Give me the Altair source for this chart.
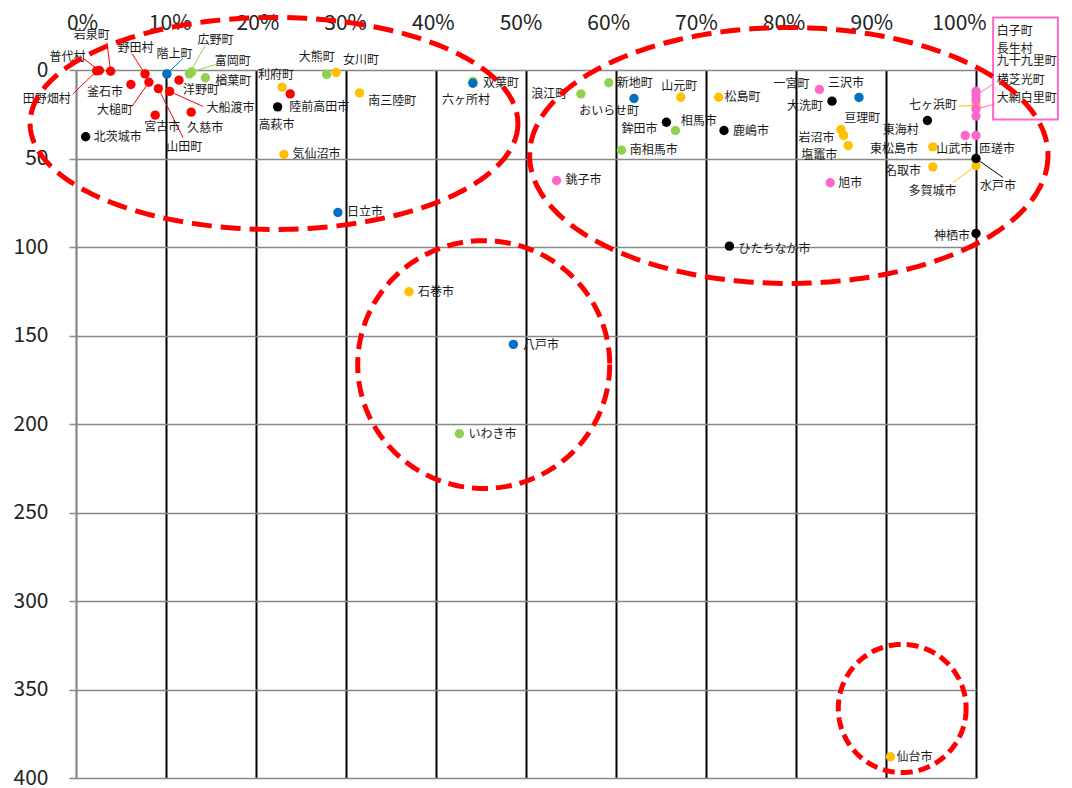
import numpy as np
import pandas as pd
import altair as alt

# ---------------- data ----------------
names = ["田野畑村", "普代村", "岩泉町", "野田村", "階上町", "広野町", "富岡町", "楢葉町", "洋野町", "釜石市",
         "大槌町", "山田町", "大船渡市", "宮古市", "久慈市", "北茨城市", "大熊町", "女川町", "利府町", "陸前高田市",
         "高萩市", "南三陸町", "気仙沼市", "日立市", "双葉町", "六ヶ所村", "浪江町", "新地町", "おいらせ町", "山元町",
         "松島町", "鉾田市", "相馬市", "鹿嶋市", "南相馬市", "銚子市", "一宮町", "大洗町", "三沢市", "亘理町",
         "岩沼市", "塩竈市", "旭市", "東海村", "東松島市", "名取市", "山武市", "匝瑳市", "水戸市", "多賀城市",
         "神栖市", "七ヶ浜町", "白子町", "長生村", "九十九里町", "横芝光町", "大網白里町", "石巻市", "八戸市", "いわき市",
         "ひたちなか市", "仙台市"]
groups = ["red", "red", "red", "red", "blue", "green", "green", "green", "red", "red",
          "red", "red", "red", "red", "red", "black", "green", "yellow", "yellow", "red",
          "black", "yellow", "yellow", "blue", "green", "blue", "green", "green", "blue", "yellow",
          "yellow", "black", "green", "black", "green", "pink", "pink", "black", "blue", "yellow",
          "yellow", "yellow", "pink", "black", "yellow", "yellow", "pink", "pink", "black", "yellow",
          "black", "yellow", "pink", "pink", "pink", "pink", "pink", "yellow", "blue", "green",
          "black", "yellow"]
x_pct = [2.3, 2.6, 3.85, 7.67, 10.1, 12.6, 12.85, 14.37, 11.44, 6.1,
         8.1, 9.15, 10.4, 8.8, 12.8, 1.07, 27.85, 28.9, 22.9, 23.8,
         22.4, 31.5, 23.1, 29.1, 44.1, 44.1, 56.1, 59.2, 62.0, 67.2,
         71.4, 65.6, 66.6, 72.0, 60.6, 53.4, 82.6, 84.0, 87.0, 85.0,
         85.3, 85.8, 83.8, 94.6, 95.2, 95.2, 98.8, 100, 100, 100,
         100, 100, 100, 100, 100, 100, 100, 37.0, 48.6, 42.6,
         72.6, 90.5]
y_val = [0.5, 0.3, 0.7, 2.2, 2.2, 2.2, 1.1, 4.4, 5.75, 8.2,
         6.9, 10.5, 12.1, 25.5, 23.8, 37.7, 2.5, 1.4, 9.7, 13.5,
         20.8, 12.9, 47.7, 80.5, 6.5, 7.5, 13.5, 7.2, 16.1, 15.4,
         15.4, 29.5, 34.2, 34.2, 45.3, 62.4, 11.0, 17.6, 15.5, 33.6,
         37.0, 42.7, 63.7, 28.5, 43.4, 54.7, 37.0, 37.0, 50.0, 54.0,
         92.4, 20.0, 12.0, 14.5, 17.0, 22.0, 26.0, 125.3, 155.0, 205.5,
         99.5, 388.0]
x_ticks = [0, 10, 20, 30, 40, 50, 60, 70, 80, 90, 100]
y_ticks = [0, 50, 100, 150, 200, 250, 300, 350, 400]

# ---------------- label styling (pixel offsets from the dot) ----------------
lab_dx = [-26, -32, -19, -9.5, 7.5, 26, 41, 10, 4, -8,
          -34, 26, 37, 7, 14, 8, -10, 25, -6, -1,
          -1, 8.7, 8.7, 9, 10, -7, -13.7, 8, -25, -1.5,
          6, -9, 5.3, 9, 8.3, 9, -10, -9, -13, 3.3,
          -9.3, -11, 8, -8.7, -14.7, -11.7, 7, 3, 4, -43.5,
          -6, -19, 20.7, 20.7, 20.7, 20.7, 20.7, 9, 9.7, 9,
          9, 6]
lab_dy = [28, -14, -36, -26, -20, -33.6, -11, 3.4, 10, 7,
          28, 58.7, 17, 12.3, 16, 0, -17, -12, -12, 13,
          17.7, 7.7, 0, 0, 1, 17, 0, 0, 12.7, -11,
          0, 6.6, -9.3, 0, 0, 0, -5, 5, -14, -11.7,
          3, 9, 0, 9.7, 2, 3.7, 13.3, 13.3, 27.7, 25.7,
          2, 0, -60, -46.9, -38.9, -29.4, -18.2, 0, 1, 0.7,
          3, 0]
lab_align = ["right", "center", "center", "center", "center", "center", "center", "left", "left", "right",
             "center", "center", "left", "center", "center", "left", "center", "center", "center", "left",
             "center", "left", "left", "left", "left", "center", "right", "left", "center", "center",
             "left", "right", "left", "left", "left", "left", "right", "right", "center", "left",
             "right", "right", "left", "right", "right", "right", "right", "left", "left", "center",
             "right", "right", "left", "left", "left", "left", "left", "left", "left", "left",
             "left", "left"]

# leader lines: point name and pixel offset of the far end
leader_names = ["田野畑村", "普代村", "岩泉町", "野田村", "階上町", "広野町", "富岡町", "大槌町", "山田町",
                "大船渡市", "水戸市", "多賀城市", "七ヶ浜町", "長生村", "横芝光町"]
leader_dx = [-24, -16, -3.7, -13, 16, 15.7, 24.3, -17, 24.7, 33.3, 27, -23, -18, 16, 19]
leader_dy = [23.3, -12, -28.7, -20.3, -15.3, -28.3, -7.5, 24.3, 49, 15, 19, 17, 0.7, -11, -5]

# annotation ellipses (data units)
ell_cx = [22.0, 79.2, 45.3, 91.8]
ell_cy = [30.2, 48.3, 166.4, 360.7]
ell_rx = [27.1, 28.8, 14.0, 7.1]
ell_ry = [59.9, 72.3, 70.0, 36.2]
ell_dash = [[20, 9], [20, 9], [16, 8], [12, 6]]

# pink callout box (data units)
box_x = [101.9, 109.1]
box_y = [-29.7, 28.0]

colors = {"green": "#92d050", "yellow": "#ffc000", "red": "#ff0000",
          "blue": "#0070c0", "black": "#000000", "pink": "#ff66cc"}

W, H = 900, 708
PX_X = W / 100.0
PX_Y = H / 400.0
FONT = "Noto Sans CJK JP"

# ---------------- frames ----------------
pts = pd.DataFrame({"name": names, "group": groups, "x": x_pct, "y": y_val,
                    "dx": lab_dx, "dy": lab_dy, "align": lab_align})
pts["lx"] = pts["x"] + pts["dx"] / PX_X
pts["ly"] = pts["y"] + pts["dy"] / PX_Y
order_map = {g: i for i, g in enumerate(colors)}
pts["ord"] = pts["group"].map(order_map)
pts = pts.sort_values("ord", kind="stable")

lead = pd.DataFrame({"name": leader_names, "ex": leader_dx, "ey": leader_dy})
lead = lead.merge(pts[["name", "group", "x", "y"]], on="name")
lead["x2"] = lead["x"] + lead["ex"] / PX_X
lead["y2"] = lead["y"] + lead["ey"] / PX_Y

xs = alt.Scale(domain=[0, 100], nice=False, zero=False)
ys = alt.Scale(domain=[0, 400], reverse=True, nice=False)
cs = alt.Scale(domain=list(colors.keys()), range=list(colors.values()))

x_axis = alt.Axis(orient="top", values=x_ticks, labelExpr="datum.value + '%'", title=None,
                  ticks=False, domain=False, labelPadding=37, labelFlush=False,
                  labelOffset={"expr": "6 - 0.23 * datum.value"},
                  labelFontSize=21, labelFont=FONT, labelColor="#222222",
                  grid=True, gridWidth=2,
                  gridColor={"condition": {"test": "datum.value === 0", "value": "#888888"}, "value": "#000000"})
y_axis = alt.Axis(orient="left", values=y_ticks, title=None, tickSize=7, tickColor="#888888",
                  tickWidth=1.5, domainColor="#888888", domainWidth=1.5, labelPadding=21,
                  labelFlush=False,
                  labelFontSize=21, labelFont=FONT, labelColor="#222222",
                  grid=True, gridColor="#888888", gridWidth=1.5)


def X(f):
    return alt.X(f, type="quantitative", scale=xs, axis=x_axis)


def Y(f):
    return alt.Y(f, type="quantitative", scale=ys, axis=y_axis)


box_df = pd.DataFrame({"x": [box_x[0]], "x2": [box_x[1]], "y": [box_y[0]], "y2": [box_y[1]]})
box = alt.Chart(box_df).mark_rect(fillOpacity=0, stroke="#ff66cc", strokeWidth=2).encode(
    x=X("x"), x2="x2", y=Y("y"), y2="y2")

leaders = alt.Chart(lead).mark_rule(strokeWidth=1).encode(
    x=X("x"), y=Y("y"), x2="x2", y2="y2",
    color=alt.Color("group:N", scale=cs, legend=None))

dots = alt.Chart(pts).mark_circle(size=88, opacity=1).encode(
    x=X("x"), y=Y("y"), color=alt.Color("group:N", scale=cs, legend=None),
    order=alt.Order("ord:Q"))

label_layers = []
for al in ["left", "center", "right"]:
    label_layers.append(
        alt.Chart(pts[pts["align"] == al]).mark_text(
            align=al, baseline="middle", font=FONT, fontSize=12, color="#1a1a1a").encode(
            x=X("lx"), y=Y("ly"), text="name:N"))

ell_layers = []
theta = np.linspace(0, 2 * np.pi, 241)
for i in range(len(ell_cx)):
    edf = pd.DataFrame({"t": np.arange(len(theta)),
                        "ex": ell_cx[i] + ell_rx[i] * np.cos(theta),
                        "ey": ell_cy[i] + ell_ry[i] * np.sin(theta)})
    ell_layers.append(
        alt.Chart(edf).mark_line(color="#ff0000", strokeWidth=5, strokeDash=ell_dash[i]).encode(
            x=X("ex"), y=Y("ey"), order="t:Q"))

chart = alt.layer(box, leaders, dots, *label_layers, *ell_layers).properties(
    width=W, height=H,
    autosize=alt.AutoSizeParams(type="none"),
    padding={"left": 68, "top": 62, "right": 88, "bottom": 10},
).configure_view(stroke=None)

chart.save("out.html", embed_options={"renderer": "svg", "actions": False})
